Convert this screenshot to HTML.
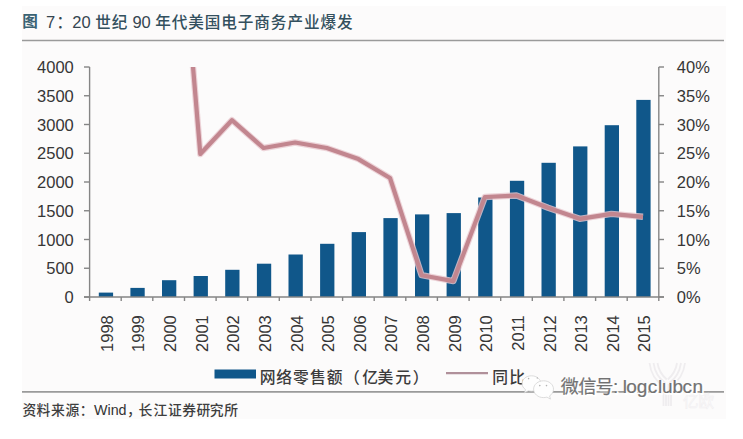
<!DOCTYPE html>
<html><head><meta charset="utf-8"><style>
html,body{margin:0;padding:0;background:#fff;}
body{width:743px;height:439px;overflow:hidden;position:relative;}
#card{position:absolute;left:22px;top:6px;width:704px;height:413px;background:#fcfbfb;}
svg{position:absolute;left:0;top:0;font-family:"Liberation Sans","Noto Sans CJK SC",sans-serif;}
.ax{font-family:"Liberation Sans",Arial,sans-serif;font-size:16.5px;fill:#363636;}
</style></head><body>
<div id="card"></div>
<svg width="743" height="439" viewBox="0 0 743 439">
<defs><clipPath id="pc"><rect x="80" y="67.0" width="600" height="240"/></clipPath></defs>
<text x="22.2" y="27.2" font-size="15.6" font-weight="bold" fill="#3a6273">图</text>
<text x="46.1" y="28" font-size="16.5" fill="#354550">7</text>
<text x="56.3" y="28" font-size="16.5" fill="#354550">：</text>
<text x="72.3" y="28" font-size="16.5" fill="#354550">20</text>
<text x="95.3" y="27.6" font-size="15.6" letter-spacing="0.9" font-weight="500" fill="#33505e">世纪</text>
<text x="132.4" y="28" font-size="16.5" fill="#354550">90</text>
<text x="155.2" y="27.6" font-size="15.6" letter-spacing="0.93" font-weight="500" fill="#33505e">年代美国电子商务产业爆发</text>
<line x1="22" y1="40.5" x2="724" y2="40.5" stroke="#9a9a9a" stroke-width="1.4"/>
<rect x="98.8" y="292.6" width="14.3" height="4.4" fill="#10578a"/>
<rect x="130.4" y="287.9" width="14.3" height="9.1" fill="#10578a"/>
<rect x="162.0" y="280.2" width="14.3" height="16.8" fill="#10578a"/>
<rect x="193.6" y="276.0" width="14.3" height="21.0" fill="#10578a"/>
<rect x="225.2" y="269.8" width="14.3" height="27.2" fill="#10578a"/>
<rect x="256.9" y="263.7" width="14.3" height="33.3" fill="#10578a"/>
<rect x="288.5" y="254.5" width="14.3" height="42.5" fill="#10578a"/>
<rect x="320.1" y="243.8" width="14.3" height="53.2" fill="#10578a"/>
<rect x="351.7" y="232.1" width="14.3" height="64.9" fill="#10578a"/>
<rect x="383.4" y="218.1" width="14.3" height="78.9" fill="#10578a"/>
<rect x="415.0" y="214.4" width="14.3" height="82.6" fill="#10578a"/>
<rect x="446.6" y="213.1" width="14.3" height="83.9" fill="#10578a"/>
<rect x="478.2" y="197.5" width="14.3" height="99.5" fill="#10578a"/>
<rect x="509.9" y="180.8" width="14.3" height="116.2" fill="#10578a"/>
<rect x="541.5" y="162.8" width="14.3" height="134.2" fill="#10578a"/>
<rect x="573.1" y="146.4" width="14.3" height="150.6" fill="#10578a"/>
<rect x="604.7" y="125.2" width="14.3" height="171.8" fill="#10578a"/>
<rect x="636.3" y="99.9" width="14.3" height="197.1" fill="#10578a"/>
<polyline clip-path="url(#pc)" points="168.7,-224.0 200.3,154.0 231.9,120.2 263.5,148.0 295.1,142.5 326.8,148.0 358.4,159.1 390.0,178.0 421.6,275.2 453.3,281.1 484.9,197.0 516.5,195.5 548.1,207.8 579.7,218.8 611.4,213.9 643.0,216.8" fill="none" stroke="#e9c9cf" stroke-width="6.4" stroke-linejoin="round" opacity="0.8"/>
<polyline clip-path="url(#pc)" points="168.7,-224.0 200.3,154.0 231.9,120.2 263.5,148.0 295.1,142.5 326.8,148.0 358.4,159.1 390.0,178.0 421.6,275.2 453.3,281.1 484.9,197.0 516.5,195.5 548.1,207.8 579.7,218.8 611.4,213.9 643.0,216.8" fill="none" stroke="#c2868f" stroke-width="4.2" stroke-linejoin="round"/>
<g stroke="#858585" stroke-width="1.4"><line x1="89.6" y1="67.0" x2="89.6" y2="301"/><line x1="658.8" y1="67.0" x2="658.8" y2="301"/><line x1="84" y1="297.0" x2="664" y2="297.0"/><line x1="84" y1="297.00" x2="89.6" y2="297.00"/><line x1="658.8" y1="297.00" x2="664" y2="297.00"/><line x1="84" y1="268.25" x2="89.6" y2="268.25"/><line x1="658.8" y1="268.25" x2="664" y2="268.25"/><line x1="84" y1="239.50" x2="89.6" y2="239.50"/><line x1="658.8" y1="239.50" x2="664" y2="239.50"/><line x1="84" y1="210.75" x2="89.6" y2="210.75"/><line x1="658.8" y1="210.75" x2="664" y2="210.75"/><line x1="84" y1="182.00" x2="89.6" y2="182.00"/><line x1="658.8" y1="182.00" x2="664" y2="182.00"/><line x1="84" y1="153.25" x2="89.6" y2="153.25"/><line x1="658.8" y1="153.25" x2="664" y2="153.25"/><line x1="84" y1="124.50" x2="89.6" y2="124.50"/><line x1="658.8" y1="124.50" x2="664" y2="124.50"/><line x1="84" y1="95.75" x2="89.6" y2="95.75"/><line x1="658.8" y1="95.75" x2="664" y2="95.75"/><line x1="84" y1="67.00" x2="89.6" y2="67.00"/><line x1="658.8" y1="67.00" x2="664" y2="67.00"/><line x1="121.2" y1="297.0" x2="121.2" y2="301"/><line x1="152.8" y1="297.0" x2="152.8" y2="301"/><line x1="184.5" y1="297.0" x2="184.5" y2="301"/><line x1="216.1" y1="297.0" x2="216.1" y2="301"/><line x1="247.7" y1="297.0" x2="247.7" y2="301"/><line x1="279.3" y1="297.0" x2="279.3" y2="301"/><line x1="311.0" y1="297.0" x2="311.0" y2="301"/><line x1="342.6" y1="297.0" x2="342.6" y2="301"/><line x1="374.2" y1="297.0" x2="374.2" y2="301"/><line x1="405.8" y1="297.0" x2="405.8" y2="301"/><line x1="437.4" y1="297.0" x2="437.4" y2="301"/><line x1="469.1" y1="297.0" x2="469.1" y2="301"/><line x1="500.7" y1="297.0" x2="500.7" y2="301"/><line x1="532.3" y1="297.0" x2="532.3" y2="301"/><line x1="563.9" y1="297.0" x2="563.9" y2="301"/><line x1="595.6" y1="297.0" x2="595.6" y2="301"/><line x1="627.2" y1="297.0" x2="627.2" y2="301"/></g>
<g class="ax"><text x="73.8" y="303.0" text-anchor="end">0</text><text x="676.8" y="303.0">0%</text><text x="73.8" y="274.2" text-anchor="end">500</text><text x="676.8" y="274.2">5%</text><text x="73.8" y="245.5" text-anchor="end">1000</text><text x="676.8" y="245.5">10%</text><text x="73.8" y="216.8" text-anchor="end">1500</text><text x="676.8" y="216.8">15%</text><text x="73.8" y="188.0" text-anchor="end">2000</text><text x="676.8" y="188.0">20%</text><text x="73.8" y="159.2" text-anchor="end">2500</text><text x="676.8" y="159.2">25%</text><text x="73.8" y="130.5" text-anchor="end">3000</text><text x="676.8" y="130.5">30%</text><text x="73.8" y="101.8" text-anchor="end">3500</text><text x="676.8" y="101.8">35%</text><text x="73.8" y="73.0" text-anchor="end">4000</text><text x="676.8" y="73.0">40%</text><text transform="translate(112.8,315.2) rotate(-90)" text-anchor="end">1998</text><text transform="translate(144.4,315.2) rotate(-90)" text-anchor="end">1999</text><text transform="translate(176.1,315.2) rotate(-90)" text-anchor="end">2000</text><text transform="translate(207.7,315.2) rotate(-90)" text-anchor="end">2001</text><text transform="translate(239.3,315.2) rotate(-90)" text-anchor="end">2002</text><text transform="translate(270.9,315.2) rotate(-90)" text-anchor="end">2003</text><text transform="translate(302.5,315.2) rotate(-90)" text-anchor="end">2004</text><text transform="translate(334.2,315.2) rotate(-90)" text-anchor="end">2005</text><text transform="translate(365.8,315.2) rotate(-90)" text-anchor="end">2006</text><text transform="translate(397.4,315.2) rotate(-90)" text-anchor="end">2007</text><text transform="translate(429.0,315.2) rotate(-90)" text-anchor="end">2008</text><text transform="translate(460.7,315.2) rotate(-90)" text-anchor="end">2009</text><text transform="translate(492.3,315.2) rotate(-90)" text-anchor="end">2010</text><text transform="translate(523.9,315.2) rotate(-90)" text-anchor="end">2011</text><text transform="translate(555.5,315.2) rotate(-90)" text-anchor="end">2012</text><text transform="translate(587.1,315.2) rotate(-90)" text-anchor="end">2013</text><text transform="translate(618.8,315.2) rotate(-90)" text-anchor="end">2014</text><text transform="translate(650.4,315.2) rotate(-90)" text-anchor="end">2015</text></g>
<rect x="214.5" y="369.5" width="41.5" height="9" fill="#10578a"/>
<text x="259.7 276.3 292.9 310.0 326.7 344.0 362.3 377.6 395.2 412.7" y="383.2" font-size="15.8" fill="#3c3c3c" font-weight="500">网络零售额（亿美元）</text><text x="492.3 509.3" y="383.2" font-size="15.8" fill="#3c3c3c" font-weight="500">同比</text>
<line x1="446" y1="373.1" x2="488" y2="373.1" stroke="#b0909a" stroke-width="2.3"/>
<line x1="22" y1="391.9" x2="724" y2="391.9" stroke="#9a9a9a" stroke-width="1.7"/>
<text x="22.4 36.5 50.9 65.4 79.7" y="414.5" font-size="13.8" fill="#3e3e3e" font-weight="500">资料来源：</text>
<text x="94.0" y="414.5" font-size="14.3" fill="#333">Wind</text>
<text x="127.0 138.5 153.6 167.9 182.2 196.5 209.8 224.3" y="414.5" font-size="13.8" fill="#3e3e3e" font-weight="500">，长江证券研究所</text>

<g fill="none" stroke="#efedef" stroke-width="1.8">
<path d="M649.5,363 C651,375 657,382 663.5,386"/><path d="M653.5,363 C655,373 659.5,379 665.3,383"/><path d="M657.5,363 C658.5,370 661.5,375 666.8,379.5"/>
<path d="M685,363 C683.5,375 677.5,382 671,386"/><path d="M681,363 C679.5,373 675,379 669.2,383"/><path d="M677,363 C676,370 673,375 667.8,379.5"/>
<path d="M663.5,386 V406 M666,384 V406 M668.5,384 V406 M671,386 V406"/>
</g>
<text x="683" y="407" font-size="15.5" fill="none" stroke="#f1eff1" stroke-width="0.6">亿欧</text>

<g stroke="#cfcfcf" stroke-width="0.7" fill="#fefefe">
<path d="M531.5,375.8 c-5.4,0 -9.4,3.5 -9.4,7.8 c0,2.5 1.3,4.5 3.4,6 l-1,3.2 l3.8,-2 c1,0.3 2.1,0.4 3.2,0.4 c5.2,0 9.4,-3.5 9.4,-7.6 c0,-4.3 -4.2,-7.8 -9.4,-7.8z"/>
<path d="M543.6,380.8 c-5.6,0 -10,3.7 -10,8.4 c0,4.6 4.4,8.4 10,8.4 c1.1,0 2.3,-0.2 3.3,-0.5 l3.6,2 l-0.9,-3.2 c2.4,-1.5 3.9,-4 3.9,-6.7 c0,-4.7 -4.4,-8.4 -9.9,-8.4z"/>
</g>
<g fill="#b4b4b4"><circle cx="528.6" cy="378.6" r="0.8"/><circle cx="537.3" cy="378" r="0.7"/><circle cx="539.8" cy="385.6" r="0.8"/><circle cx="546.5" cy="385.6" r="0.8"/></g>
<text x="561.8 579.7 596.6" y="394.0" font-size="18" fill="#ffffff" stroke="#ffffff" stroke-width="1.8" stroke-linejoin="round">微信号</text><text x="614.1 623.9 627.4 637.9 648.9 659.0 663.0 673.7 683.5 693.5" y="394.0" font-size="19" fill="#ffffff" stroke="#ffffff" stroke-width="1.8" stroke-linejoin="round">:logclubcn</text><text x="560.7 578.6 595.5" y="393.4" font-size="18" fill="#727272" stroke="#727272" stroke-width="0.2">微信号</text><text x="613.0 622.8 626.3 636.8 647.8 657.9 661.9 672.6 682.4 692.4" y="393.4" font-size="19" fill="#727272" stroke="#727272" stroke-width="0.2">:logclubcn</text>
</svg>
</body></html>
